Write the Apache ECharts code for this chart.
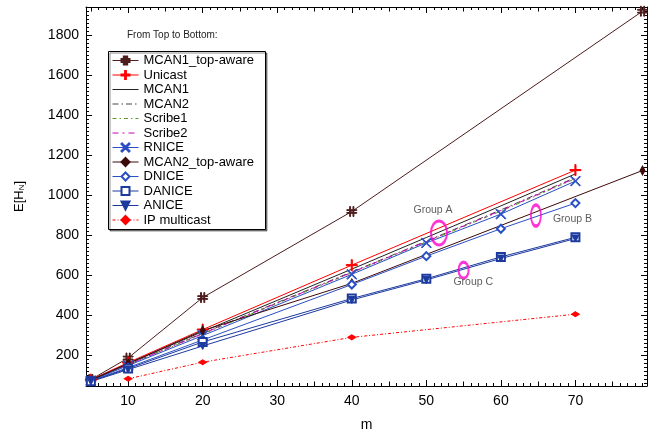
<!DOCTYPE html>
<html><head><meta charset="utf-8">
<script src="https://cdn.jsdelivr.net/npm/echarts@6/dist/echarts.min.js"></script>
<style>html,body{margin:0;padding:0;background:#fff}#c{width:660px;height:437px}</style>
</head><body><div id="c"></div>
<script>
// ---- data ----
const mAll = [5, 10, 20, 40, 50, 60, 70];
const mUnicast = [5, 10, 20, 40, 70];
const mTop = [5, 10, 20, 40, 79];
const mIP = [10, 20, 40, 70];

const mcan1TopAware = [80, 188, 490, 920, 1921];
const unicast = [80, 165, 330, 652, 1127];
const mcan1 = [78, 160, 320, 632, 790, 948, 1108];
const mcan2 = [77, 156, 312, 618, 772, 928, 1090];
const scribe1 = [76, 154, 308, 614, 768, 922, 1084];
const scribe2 = [76, 155, 310, 616, 770, 925, 1087];
const rnice = [75, 150, 300, 606, 763, 907, 1072];
const mcan2TopAware = [76, 160, 325, 561, 1125];
const dnice = [73, 140, 278, 555, 697, 834, 962];
const danice = [72, 135, 268, 485, 584, 693, 791];
const anice = [70, 130, 248, 478, 578, 685, 785];
const ipMulticast = [84, 167, 291, 407];

const groupNames = ['Group A', 'Group B', 'Group C'];
const groupTextM = [50.9, 69.6, 56.3];
const groupTextV = [925, 884, 569];
const ellipseM = [51.7, 64.7, 55.0];
const ellipseV = [813, 900, 627];

const xMajor = [10, 20, 30, 40, 50, 60, 70];
const yMajor = [200, 400, 600, 800, 1000, 1200, 1400, 1600, 1800];

// ---- ticks ----
const xMedium = [], xMinor = [];
for (let i = 5; i <= 79; i++) { if (i % 10 === 0) continue; if (i % 5 === 0) xMedium.push(i); else xMinor.push(i); }
const yMinor = [];
for (let v = 60; v <= 1940; v += 20) { if (v % 200 !== 0) yMinor.push(v); }

const zip = (xs, ys) => xs.map((x, i) => [x, ys[i]]);
const FONT = "'Liberation Sans', Arial, sans-serif";
const XMIN = 4.35, XMAX = 79.6, YMIN = 48, YMAX = 1942;

const P_HASH = 'path://M2.9,0H3.8V10H2.9Z M6.2,0H7.1V10H6.2Z M0,3.2H10V4H0Z M0,6H10V6.8H0Z';
const P_PLUS = 'path://M4.5,0H5.5V4.5H10V5.5H5.5V10H4.5V5.5H0V4.5H4.5Z';
const P_X = 'path://M0,0.7L0.7,0L5,4.3L9.3,0L10,0.7L5.7,5L10,9.3L9.3,10L5,5.7L0.7,10L0,9.3L4.3,5Z';

function xAx(pos, ticks, len, opts) {
  return Object.assign({
    type: 'value', position: pos, min: XMIN, max: XMAX,
    axisLine: { show: false, onZero: false },
    axisTick: { show: true, inside: true, length: len, customValues: ticks, lineStyle: { color: '#000', width: 1 } },
    axisLabel: { show: false }, splitLine: { show: false }
  }, opts || {});
}
function yAx(pos, ticks, len, opts) {
  return Object.assign({
    type: 'value', position: pos, min: YMIN, max: YMAX,
    axisLine: { show: false, onZero: false },
    axisTick: { show: true, inside: true, length: len, customValues: ticks, lineStyle: { color: '#000', width: 1 } },
    axisLabel: { show: false }, splitLine: { show: false }
  }, opts || {});
}

function line(name, xs, ys, color, sym, size, lineType, extra) {
  return Object.assign({
    name, type: 'line', data: zip(xs, ys), xAxisIndex: 0, yAxisIndex: 0,
    symbol: sym, symbolSize: size, showSymbol: sym !== 'none',
    itemStyle: { color: color, borderColor: color, borderWidth: 1 },
    lineStyle: { color: color, width: 1, type: lineType || 'solid' },
    emphasis: { disabled: true }, z: 3
  }, extra || {});
}

const series = [
  line('MCAN1_top-aware', mTop, mcan1TopAware, '#4d1c1c', P_HASH, 10),
  line('Unicast', mUnicast, unicast, '#ff0000', P_PLUS, 11),
  line('MCAN1', mAll, mcan1, '#222222', 'none', 0),
  line('MCAN2', mAll, mcan2, '#444444', 'none', 0, [6, 3, 1.5, 3]),
  line('Scribe1', mAll, scribe1, '#5e9a2e', 'none', 0, [4, 3, 1.5, 3]),
  line('Scribe2', mAll, scribe2, '#cc00bb', 'none', 0, [6, 4, 2, 4]),
  line('RNICE', mAll, rnice, '#2a4fc4', P_X, 10),
  line('MCAN2_top-aware', mTop, mcan2TopAware, '#3d0a0a', 'diamond', [5, 9]),
  line('DNICE', mAll, dnice, '#2a4fc4', 'emptyDiamond', 8),
  line('DANICE', mAll, danice, '#1d3a9e', 'emptyRect', 8),
  line('ANICE', mAll, anice, '#1d3a9e', 'triangle', 7, 'solid', { symbolRotate: 180 }),
  line('IP multicast', mIP, ipMulticast, '#ff0000', 'diamond', [8, 5], [3, 2, 1, 2]),
  {
    name: 'ellipses', type: 'scatter', xAxisIndex: 0, yAxisIndex: 0, z: 5,
    data: [
      { value: [ellipseM[0], ellipseV[0]], symbolSize: [16, 24] },
      { value: [ellipseM[1], ellipseV[1]], symbolSize: [10, 21] },
      { value: [ellipseM[2], ellipseV[2]], symbolSize: [10, 16] }
    ],
    symbol: 'circle',
    itemStyle: { color: 'rgba(0,0,0,0)', borderColor: '#ff00cc', borderWidth: 2.5 },
    emphasis: { disabled: true }, silent: true
  },
  {
    name: 'groups', type: 'scatter', xAxisIndex: 0, yAxisIndex: 0, z: 5,
    data: groupNames.map((n, i) => ({ name: n, value: [groupTextM[i], groupTextV[i]] })),
    symbolSize: 1, itemStyle: { color: 'rgba(0,0,0,0)' },
    label: { show: true, position: 'inside', formatter: p => p.name, color: '#333', fontSize: 10.5, fontFamily: FONT },
    emphasis: { disabled: true }, silent: true
  }
];

const noMarker = ['MCAN1', 'MCAN2', 'Scribe1', 'Scribe2'];
const legendData = series.slice(0, 12).map(s => noMarker.indexOf(s.name) >= 0
  ? { name: s.name, itemStyle: { color: 'rgba(0,0,0,0)', borderColor: 'rgba(0,0,0,0)', borderWidth: 0 } }
  : { name: s.name });

const chart = echarts.init(document.getElementById('c'), null, { renderer: 'canvas' });
chart.setOption({
  animation: false,
  backgroundColor: '#fff',
  textStyle: { fontFamily: FONT },
  grid: { left: 86, right: 13, top: 7, bottom: 48, containLabel: false },
  title: { text: 'From Top to Bottom:', left: 127, top: 30, padding: 0,
    textStyle: { fontSize: 10, fontWeight: 'normal', color: '#222', fontFamily: FONT } },
  legend: {
    data: legendData,
    orient: 'vertical', left: 112, top: 54, padding: 0,
    itemWidth: 26, itemHeight: 10, itemGap: 1.5,
    lineStyle: { width: 1 },
    textStyle: { fontSize: 13, lineHeight: 12, color: '#000', fontFamily: FONT },
    selectedMode: false, z: 10
  },
  graphic: [{
    type: 'rect', z: 9, silent: true,
    shape: { x: 108.5, y: 51.5, width: 157, height: 178 },
    style: { fill: '#fff', stroke: '#000', lineWidth: 1, shadowColor: 'rgba(0,0,0,0.45)', shadowOffsetX: 1.5, shadowOffsetY: 1.5, shadowBlur: 0 }
  }],
  xAxis: [
    xAx('bottom', xMajor, 6, {
      axisLine: { show: true, onZero: false, lineStyle: { color: '#000', width: 1 } },
      axisLabel: { show: true, customValues: xMajor, fontSize: 14, color: '#000', margin: 8, fontFamily: FONT, formatter: v => String(v) },
      name: 'm', nameLocation: 'middle', nameGap: 32,
      nameTextStyle: { fontSize: 14, color: '#000', fontFamily: FONT }
    }),
    xAx('bottom', xMedium, 4.5),
    xAx('bottom', xMinor, 3),
    xAx('top', xMajor, 6, { axisLine: { show: true, onZero: false, lineStyle: { color: '#000', width: 1 } } }),
    xAx('top', xMedium, 4.5),
    xAx('top', xMinor, 3)
  ],
  yAxis: [
    yAx('left', yMajor, 6, {
      axisLine: { show: true, onZero: false, lineStyle: { color: '#000', width: 1 } },
      axisLabel: { show: true, customValues: yMajor, fontSize: 14, color: '#000', margin: 7, fontFamily: FONT, formatter: v => String(v) },
      name: 'E[H{s|N}]', nameLocation: 'middle', nameGap: 60, nameRotate: 90,
      nameTextStyle: { fontSize: 13, color: '#000', fontFamily: FONT,
        rich: { s: { fontSize: 8, verticalAlign: 'bottom', padding: [5, 0, 0, 0], fontFamily: FONT, color: '#000' } } }
    }),
    yAx('left', yMinor, 3),
    yAx('right', yMajor, 6, { axisLine: { show: true, onZero: false, lineStyle: { color: '#000', width: 1 } } }),
    yAx('right', yMinor, 3)
  ],
  series: series
});
</script>
</body></html>
